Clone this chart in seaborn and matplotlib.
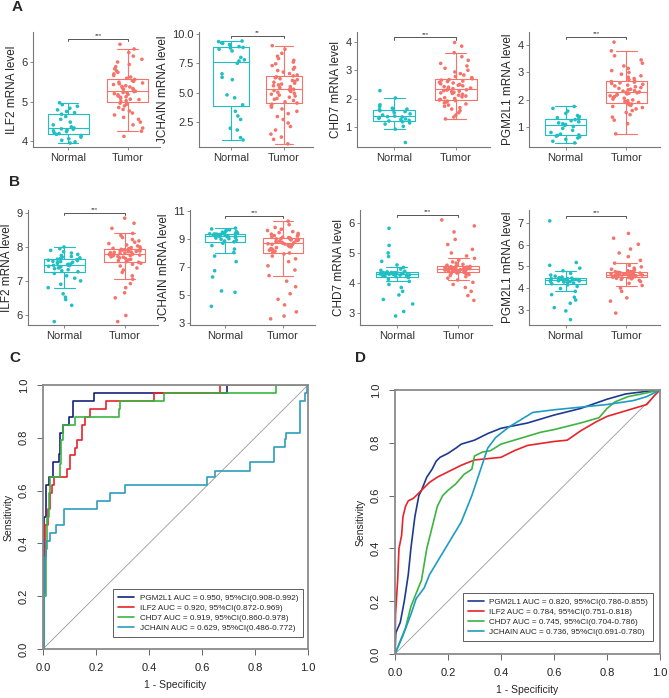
import numpy as np
import pandas as pd
import matplotlib
matplotlib.use("Agg")
import matplotlib.pyplot as plt
import seaborn as sns

sns.set_style("ticks")
plt.rcParams['font.family'] = ['Liberation Sans', 'DejaVu Sans']
np.random.seed(3)  # only for the strip jitter

W, H = 669, 698
groups = ["Normal", "Tumor"]
pal = {"Normal": "#1FBFC4", "Tumor": "#F5736A"}

# ---- panel A: expression, small cohort ----
a_ilf2_normal = [3.95, 3.98, 4.02, 4.06, 4.10, 4.14, 4.17, 4.19, 4.21, 4.24, 4.26, 4.28, 4.30, 4.31,
                 4.33, 4.36, 4.41, 4.48, 4.55, 4.62, 4.68, 4.72, 4.75, 4.79, 4.83, 4.88, 4.92, 4.97]
a_ilf2_tumor = [4.12, 4.25, 4.33, 4.41, 4.48, 4.55, 4.60, 4.66, 4.71, 4.76, 4.80, 4.85, 4.89, 4.93, 4.96,
                5.00, 5.02, 5.05, 5.06, 5.08, 5.11, 5.12, 5.14, 5.17, 5.18, 5.20, 5.22, 5.23, 5.25, 5.26,
                5.28, 5.30, 5.31, 5.33, 5.35, 5.37, 5.38, 5.40, 5.43, 5.45, 5.47, 5.49, 5.51, 5.53, 5.56,
                5.59, 5.62, 5.66, 5.70, 5.74, 5.78, 5.83, 5.88, 5.94, 6.00, 6.07, 6.15, 6.24, 6.33, 6.45]
a_jchain_normal = [0.95, 1.15, 1.80, 1.95, 2.70, 3.00, 3.40, 3.95, 4.55, 4.80, 6.10, 6.30, 6.60, 7.50,
                   7.70, 7.80, 8.00, 8.55, 8.70, 8.80, 8.85, 8.92, 9.00, 9.10, 9.20, 9.25, 9.35, 9.40]
a_jchain_tumor = [0.62, 1.00, 1.20, 1.45, 1.80, 2.10, 2.40, 2.70, 2.95, 3.20, 3.40, 3.60, 3.75, 3.88, 4.00,
                  4.10, 4.20, 4.32, 4.42, 4.50, 4.60, 4.70, 4.78, 4.86, 4.94, 5.02, 5.10, 5.17, 5.23, 5.28,
                  5.34, 5.42, 5.50, 5.58, 5.65, 5.72, 5.80, 5.88, 5.95, 6.03, 6.10, 6.18, 6.26, 6.34, 6.42,
                  6.50, 6.62, 6.75, 6.88, 7.00, 7.15, 7.30, 7.45, 7.60, 7.75, 7.90, 8.10, 8.35, 8.70, 9.00]
a_chd7_normal = [0.45, 0.92, 1.02, 1.10, 1.14, 1.18, 1.21, 1.23, 1.26, 1.28, 1.30, 1.33, 1.35, 1.36,
                 1.38, 1.42, 1.46, 1.50, 1.54, 1.57, 1.59, 1.61, 1.63, 1.66, 1.72, 1.78, 2.02, 2.28]
a_chd7_tumor = [1.28, 1.35, 1.42, 1.50, 1.57, 1.63, 1.68, 1.73, 1.77, 1.81, 1.85, 1.88, 1.91, 1.93, 1.95,
                1.97, 2.00, 2.03, 2.06, 2.09, 2.12, 2.15, 2.18, 2.20, 2.22, 2.24, 2.26, 2.28, 2.30, 2.31,
                2.33, 2.35, 2.37, 2.40, 2.42, 2.45, 2.47, 2.50, 2.52, 2.55, 2.57, 2.60, 2.62, 2.65, 2.67,
                2.70, 2.74, 2.78, 2.83, 2.88, 2.94, 3.00, 3.07, 3.15, 3.24, 3.35, 3.48, 3.62, 3.85, 3.98]
a_pgm2l1_normal = [0.42, 0.48, 0.55, 0.60, 0.64, 0.67, 0.69, 0.71, 0.74, 0.80, 0.88, 0.95, 1.02, 1.06,
                   1.09, 1.12, 1.15, 1.19, 1.23, 1.27, 1.30, 1.34, 1.38, 1.42, 1.50, 1.58, 1.68, 1.75]
a_pgm2l1_tumor = [0.75, 1.12, 1.25, 1.36, 1.45, 1.53, 1.60, 1.66, 1.71, 1.75, 1.79, 1.82, 1.84, 1.86, 1.87,
                  1.90, 1.93, 1.96, 1.99, 2.02, 2.05, 2.08, 2.11, 2.14, 2.17, 2.19, 2.21, 2.23, 2.25, 2.26,
                  2.28, 2.31, 2.33, 2.36, 2.38, 2.41, 2.44, 2.47, 2.50, 2.53, 2.56, 2.59, 2.61, 2.64, 2.66,
                  2.69, 2.73, 2.77, 2.82, 2.87, 2.93, 2.99, 3.06, 3.14, 3.23, 3.33, 3.45, 3.60, 3.78, 4.10]

# ---- panel B: expression, large cohort ----
b_ilf2_normal = [5.80, 6.28, 6.45, 6.52, 6.62, 6.80, 6.90, 7.00, 7.08, 7.15, 7.22,
                 7.27, 7.30, 7.33, 7.36, 7.38, 7.40, 7.42, 7.43, 7.45, 7.46, 7.47,
                 7.49, 7.50, 7.52, 7.54, 7.55, 7.57, 7.58, 7.60, 7.61, 7.63, 7.64,
                 7.66, 7.68, 7.70, 7.72, 7.75, 7.78, 7.82, 7.86, 7.90, 7.95, 8.00]
b_ilf2_tumor = [5.80, 5.98, 6.50, 6.65, 6.80, 6.92, 7.05, 7.15, 7.25, 7.32, 7.38, 7.44, 7.49, 7.52, 7.55,
                7.57, 7.60, 7.62, 7.64, 7.66, 7.68, 7.70, 7.71, 7.72, 7.74, 7.75, 7.76, 7.77, 7.78, 7.79,
                7.81, 7.82, 7.83, 7.84, 7.85, 7.86, 7.87, 7.88, 7.89, 7.90, 7.91, 7.92, 7.93, 7.94, 7.95,
                7.96, 7.98, 8.00, 8.03, 8.06, 8.10, 8.14, 8.18, 8.22, 8.28, 8.34, 8.40, 8.55, 8.70, 8.85]
b_jchain_normal = [4.20, 5.20, 5.30, 6.30, 6.75, 7.40, 7.80, 8.05, 8.30, 8.55, 8.72,
                   8.82, 8.88, 8.94, 9.00, 9.05, 9.09, 9.13, 9.16, 9.19, 9.21, 9.24,
                   9.26, 9.28, 9.30, 9.31, 9.33, 9.34, 9.35, 9.36, 9.37, 9.38, 9.39,
                   9.41, 9.43, 9.45, 9.48, 9.51, 9.55, 9.59, 9.63, 9.68, 9.74, 9.80]
b_jchain_tumor = [3.30, 3.50, 3.80, 4.30, 4.70, 5.10, 5.60, 6.00, 6.40, 6.80, 7.10, 7.40, 7.60, 7.80, 7.95,
                  8.02, 8.08, 8.15, 8.22, 8.28, 8.34, 8.40, 8.45, 8.50, 8.54, 8.58, 8.61, 8.64, 8.66, 8.68,
                  8.72, 8.75, 8.78, 8.81, 8.84, 8.87, 8.90, 8.93, 8.96, 8.99, 9.01, 9.03, 9.05, 9.07, 9.09,
                  9.12, 9.15, 9.19, 9.23, 9.27, 9.32, 9.37, 9.42, 9.48, 9.55, 9.63, 9.72, 9.85, 10.05, 10.30]
b_chd7_normal = [2.90, 3.05, 3.30, 3.45, 3.60, 3.72, 3.85, 3.95, 4.05, 4.12, 4.18,
                 4.21, 4.22, 4.23, 4.24, 4.25, 4.26, 4.27, 4.27, 4.28, 4.29, 4.29,
                 4.30, 4.31, 4.31, 4.32, 4.32, 4.33, 4.33, 4.34, 4.34, 4.35, 4.35,
                 4.37, 4.39, 4.42, 4.46, 4.52, 4.60, 4.72, 4.88, 5.00, 5.25, 5.82]
b_chd7_tumor = [3.42, 3.58, 3.72, 3.85, 3.95, 4.02, 4.10, 4.16, 4.21, 4.25, 4.28, 4.30, 4.32, 4.33, 4.34,
                4.36, 4.37, 4.38, 4.39, 4.40, 4.40, 4.41, 4.42, 4.42, 4.43, 4.43, 4.44, 4.44, 4.45, 4.45,
                4.46, 4.46, 4.47, 4.47, 4.48, 4.49, 4.49, 4.50, 4.51, 4.51, 4.52, 4.53, 4.53, 4.54, 4.55,
                4.57, 4.59, 4.62, 4.66, 4.70, 4.76, 4.82, 4.90, 5.00, 5.12, 5.28, 5.45, 5.70, 5.90, 6.10]
b_pgm2l1_normal = [2.55, 2.95, 3.10, 3.30, 3.45, 3.58, 3.70, 3.85, 3.98, 4.08, 4.15,
                   4.20, 4.23, 4.26, 4.28, 4.30, 4.31, 4.32, 4.33, 4.34, 4.35, 4.36,
                   4.38, 4.39, 4.40, 4.40, 4.41, 4.42, 4.42, 4.43, 4.43, 4.44, 4.44,
                   4.46, 4.48, 4.51, 4.55, 4.60, 4.68, 4.80, 4.92, 5.05, 5.18, 7.10]
b_pgm2l1_tumor = [2.85, 3.40, 3.55, 3.85, 4.00, 4.12, 4.22, 4.30, 4.36, 4.40, 4.43, 4.45, 4.47, 4.48, 4.49,
                  4.51, 4.52, 4.53, 4.54, 4.55, 4.56, 4.57, 4.57, 4.58, 4.59, 4.59, 4.60, 4.60, 4.61, 4.61,
                  4.63, 4.64, 4.65, 4.66, 4.67, 4.68, 4.69, 4.70, 4.71, 4.72, 4.73, 4.74, 4.75, 4.76, 4.76,
                  4.78, 4.80, 4.83, 4.87, 4.92, 4.98, 5.05, 5.15, 5.28, 5.45, 5.62, 5.80, 6.02, 6.30, 6.52]

# ---- panel C: ROC, small cohort ----
c_pgm2l1_fpr = [0, 0.003, 0.013, 0.021, 0.036, 0.059, 0.065, 0.075, 0.097, 0.112, 0.191, 0.693, 1.0]
c_pgm2l1_tpr = [0, 0.50, 0.62, 0.65, 0.71, 0.74, 0.82, 0.85, 0.88, 0.94, 0.97, 1.0, 1.0]
c_ilf2_fpr = [0, 0.005, 0.009, 0.018, 0.025, 0.034, 0.040, 0.090, 0.103, 0.122, 0.128, 0.147, 0.159,
              0.178, 0.238, 0.417, 0.667, 1.0]
c_ilf2_tpr = [0, 0.33, 0.47, 0.53, 0.59, 0.62, 0.65, 0.68, 0.735, 0.76, 0.79, 0.85, 0.88,
              0.91, 0.94, 0.97, 1.0, 1.0]
c_chd7_fpr = [0, 0.004, 0.010, 0.015, 0.021, 0.028, 0.063, 0.068, 0.075, 0.122, 0.285, 0.290, 0.458, 0.881, 1.0]
c_chd7_tpr = [0, 0.20, 0.38, 0.50, 0.59, 0.65, 0.70, 0.79, 0.85, 0.88, 0.91, 0.94, 0.97, 1.0, 1.0]
c_jchain_fpr = [0, 0.003, 0.008, 0.012, 0.028, 0.049, 0.078, 0.203, 0.253, 0.310, 0.620, 0.649, 0.783,
                0.871, 0.912, 0.918, 0.969, 0.987, 0.996, 1.0]
c_jchain_tpr = [0, 0.21, 0.35, 0.41, 0.44, 0.47, 0.53, 0.56, 0.59, 0.62, 0.65, 0.675, 0.71,
                0.765, 0.795, 0.82, 0.94, 0.97, 1.0, 1.0]
c_auc = ["0.950, 95%CI(0.908-0.992)", "0.920, 95%CI(0.872-0.969)",
         "0.919, 95%CI(0.860-0.978)", "0.629, 95%CI(0.486-0.772)"]

# ---- panel D: ROC, large cohort ----
d_pgm2l1_fpr = [0, 0.003, 0.02, 0.035, 0.05, 0.06, 0.075, 0.09, 0.10, 0.12, 0.14, 0.155, 0.17, 0.20, 0.23,
                0.25, 0.30, 0.35, 0.40, 0.50, 0.60, 0.70, 0.80, 0.87, 0.95, 1.0]
d_pgm2l1_tpr = [0, 0.08, 0.12, 0.20, 0.30, 0.40, 0.52, 0.60, 0.62, 0.67, 0.70, 0.73, 0.745, 0.76, 0.78,
                0.795, 0.81, 0.835, 0.855, 0.875, 0.905, 0.93, 0.965, 0.985, 0.995, 1.0]
d_ilf2_fpr = [0, 0.002, 0.01, 0.015, 0.025, 0.03, 0.04, 0.05, 0.07, 0.09, 0.11, 0.13, 0.16, 0.20, 0.25,
              0.30, 0.35, 0.40, 0.45, 0.50, 0.60, 0.65, 0.70, 0.76, 0.80, 0.85, 0.90, 0.95, 0.98, 1.0]
d_ilf2_tpr = [0, 0.15, 0.28, 0.40, 0.45, 0.52, 0.56, 0.58, 0.59, 0.61, 0.63, 0.65, 0.67, 0.69, 0.715,
              0.735, 0.74, 0.745, 0.77, 0.79, 0.805, 0.81, 0.845, 0.88, 0.90, 0.915, 0.93, 0.945, 0.98, 1.0]
d_chd7_fpr = [0, 0.02, 0.04, 0.06, 0.08, 0.10, 0.12, 0.14, 0.16, 0.18, 0.20, 0.23, 0.26, 0.29, 0.30, 0.33,
              0.36, 0.40, 0.45, 0.50, 0.55, 0.60, 0.70, 0.77, 0.80, 0.83, 0.88, 0.93, 1.0]
d_chd7_tpr = [0, 0.05, 0.10, 0.18, 0.23, 0.28, 0.40, 0.48, 0.56, 0.60, 0.62, 0.645, 0.68, 0.70, 0.75, 0.765,
              0.77, 0.795, 0.81, 0.825, 0.84, 0.85, 0.875, 0.895, 0.93, 0.955, 0.975, 0.985, 1.0]
d_jchain_fpr = [0, 0.03, 0.06, 0.08, 0.11, 0.13, 0.16, 0.19, 0.22, 0.25, 0.27, 0.29, 0.31, 0.33, 0.35,
                0.38, 0.43, 0.52, 0.60, 0.70, 0.80, 0.90, 0.95, 1.0]
d_jchain_tpr = [0, 0.07, 0.15, 0.21, 0.25, 0.30, 0.35, 0.40, 0.45, 0.50, 0.55, 0.60, 0.66, 0.72, 0.78,
                0.82, 0.86, 0.915, 0.925, 0.935, 0.945, 0.96, 0.975, 1.0]
d_auc = ["0.820, 95%CI(0.786-0.855)", "0.784, 95%CI(0.751-0.818)",
         "0.745, 95%CI(0.704-0.786)", "0.736, 95%CI(0.691-0.780)"]

roc_genes = ["PGM2L1", "ILF2", "CHD7", "JCHAIN"]
c_colors = ["#15237A", "#E8242A", "#3DB441", "#2E9DBE"]
d_colors = ["#1D3A8F", "#E8242A", "#3DB441", "#1E9CC4"]


def px_axes(fig, x0, x1, y0, y1):
    return fig.add_axes([x0 / W, 1 - y1 / H, (x1 - x0) / W, (y1 - y0) / H])


def box_panel(ax, normal, tumor, gene, ylim, ticks, stars, ticklabels=None):
    df = pd.DataFrame({"group": ["Normal"] * len(normal) + ["Tumor"] * len(tumor),
                       "value": normal + tumor})
    sns.boxplot(data=df, x="group", y="value", hue="group", palette=pal, fill=False,
                width=0.68, showfliers=False, linewidth=0.8, legend=False, ax=ax)
    sns.stripplot(data=df, x="group", y="value", hue="group", palette=pal, jitter=0.27,
                  size=2.6, linewidth=0, legend=False, ax=ax, zorder=3)
    span = ylim[1] - ylim[0]
    top = max(normal + tumor) + 0.045 * span
    ax.plot([0, 0, 1, 1], [top - 0.02 * span, top, top, top - 0.02 * span], color="#555555", lw=0.7)
    ax.text(0.5, top + 0.005 * span, stars, ha="center", va="bottom", fontsize=4.5, color="#333333")
    ax.set_xlim(-0.6, 1.55)
    ax.set_ylim(*ylim)
    ax.set_yticks(ticks)
    if ticklabels:
        ax.set_yticklabels(ticklabels)
    ax.set_xlabel("")
    ax.set_ylabel(f"{gene} mRNA level", fontsize=8.5, labelpad=2)
    sns.despine(ax=ax)
    for s in ["left", "bottom"]:
        ax.spines[s].set_color("#777777")
        ax.spines[s].set_linewidth(0.8)
    ax.tick_params(length=2.5, width=0.6, color="#777777", labelcolor="#333333", labelsize=8, pad=1.5)


def roc_panel(ax, curves, colors, aucs, step, anchor):
    ax.plot([0, 1], [0, 1], color="#9a9a9a", lw=0.6)
    for (fpr, tpr), col, gene, auc in zip(curves, colors, roc_genes, aucs):
        kw = {"drawstyle": "steps-post"} if step else {}
        sns.lineplot(x=fpr, y=tpr, sort=False, estimator=None, color=col, lw=1.2,
                     label=f"{gene} AUC = {auc}", ax=ax, **kw)
    ax.set_xlim(0, 1)
    ax.set_ylim(0, 1)
    t = [0, 0.2, 0.4, 0.6, 0.8, 1.0]
    ax.set_xticks(t)
    ax.set_xticklabels([f"{v:.1f}" for v in t])
    ax.set_yticks(t)
    ax.set_yticklabels([f"{v:.1f}" for v in t], rotation=90, va="center")
    for s in ax.spines.values():
        s.set_visible(True)
        s.set_color("#8a8a8a")
        s.set_linewidth(1.3)
    ax.tick_params(length=4, width=0.7, color="#666666", labelsize=8, pad=6, labelcolor="#222222")
    ax.set_xlabel("1 - Specificity", fontsize=7.5, labelpad=5)
    ax.set_ylabel("Sensitivity", fontsize=7.5, labelpad=4)
    leg = ax.legend(loc="lower right", bbox_to_anchor=anchor, borderaxespad=0, fontsize=5.9,
                    frameon=True, fancybox=False, edgecolor="#333333", handlelength=1.9,
                    labelspacing=0.3, borderpad=0.6, handletextpad=0.7)
    leg.get_frame().set_linewidth(0.7)
    for h in leg.get_lines():
        h.set_linewidth(1.2)


fig = plt.figure(figsize=(W / 100, H / 100), dpi=100)

a_axes = [px_axes(fig, 33, 160, 32, 147), px_axes(fig, 199, 313, 32, 147),
          px_axes(fig, 357, 490, 32, 147), px_axes(fig, 529, 660, 32, 147)]
box_panel(a_axes[0], a_ilf2_normal, a_ilf2_tumor, "ILF2", (3.85, 6.76), [4, 5, 6], "***")
box_panel(a_axes[1], a_jchain_normal, a_jchain_tumor, "JCHAIN", (0.35, 10.17), [2.5, 5, 7.5, 10], "**",
          ["2.5", "5.0", "7.5", "10.0"])
box_panel(a_axes[2], a_chd7_normal, a_chd7_tumor, "CHD7", (0.29, 4.35), [1, 2, 3, 4], "***")
box_panel(a_axes[3], a_pgm2l1_normal, a_pgm2l1_tumor, "PGM2L1", (0.27, 4.47), [1, 2, 3, 4], "***")

b_axes = [px_axes(fig, 28, 158, 210, 325), px_axes(fig, 190, 315, 210, 325),
          px_axes(fig, 360, 492, 210, 325), px_axes(fig, 529, 660, 210, 325)]
box_panel(b_axes[0], b_ilf2_normal, b_ilf2_tumor, "ILF2", (5.7, 9.09), [6, 7, 8, 9], "***")
box_panel(b_axes[1], b_jchain_normal, b_jchain_tumor, "JCHAIN", (2.86, 11.1), [3, 5, 7, 9, 11], "***")
box_panel(b_axes[2], b_chd7_normal, b_chd7_tumor, "CHD7", (2.6, 6.43), [3, 4, 5, 6], "***")
box_panel(b_axes[3], b_pgm2l1_normal, b_pgm2l1_tumor, "PGM2L1", (2.3, 7.6), [3, 4, 5, 6, 7], "***")

ax_c = px_axes(fig, 43, 308, 385, 649)
roc_panel(ax_c, [(c_pgm2l1_fpr, c_pgm2l1_tpr), (c_ilf2_fpr, c_ilf2_tpr),
                 (c_chd7_fpr, c_chd7_tpr), (c_jchain_fpr, c_jchain_tpr)],
          c_colors, c_auc, True, (0.981, 0.045))

ax_d = px_axes(fig, 395, 660, 390, 654)
roc_panel(ax_d, [(d_pgm2l1_fpr, d_pgm2l1_tpr), (d_ilf2_fpr, d_ilf2_tpr),
                 (d_chd7_fpr, d_chd7_tpr), (d_jchain_fpr, d_jchain_tpr)],
          d_colors, d_auc, False, (0.974, 0.049))

for lab, x, y in [("A", 17, 7), ("B", 15, 182), ("C", 15, 358), ("D", 361, 358)]:
    fig.text(x / W, 1 - y / H, lab, fontsize=11, fontweight="bold", ha="center", va="center")

fig.savefig("out.png", dpi=100)
